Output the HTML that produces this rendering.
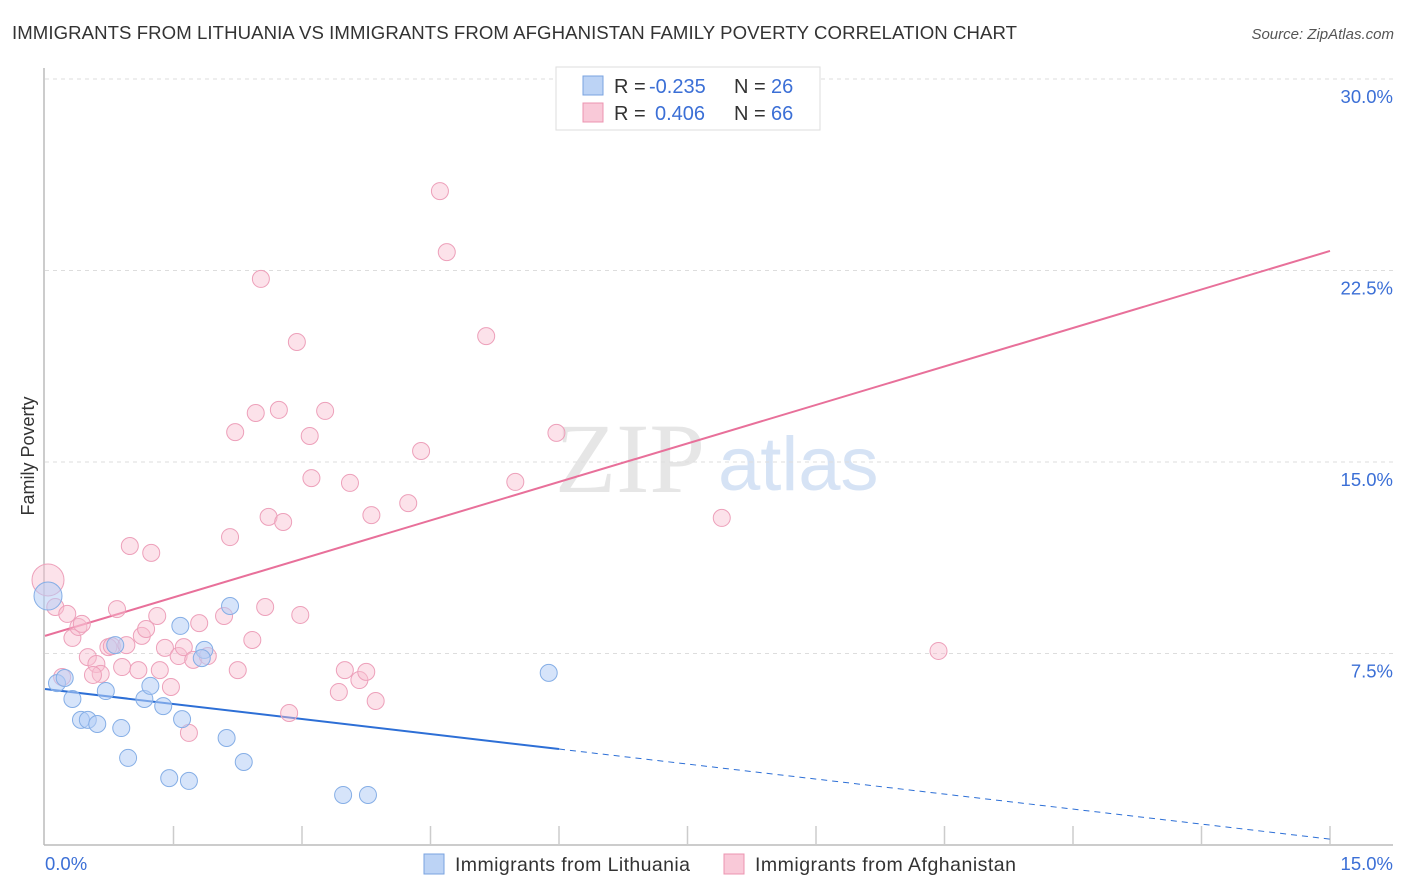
<!DOCTYPE html>
<html><head><meta charset="utf-8"><style>
body{margin:0;background:#fff;font-family:"Liberation Sans",sans-serif;}
svg{display:block}
</style></head><body>
<svg id="chart" width="1406" height="892">
<text x="12" y="39" font-size="18.6" fill="#333" textLength="1005">IMMIGRANTS FROM LITHUANIA VS IMMIGRANTS FROM AFGHANISTAN FAMILY POVERTY CORRELATION CHART</text>
<text x="1394" y="39" font-size="15" fill="#555" text-anchor="end" font-style="italic">Source: ZipAtlas.com</text>
<text x="0" y="0" transform="translate(34,456) rotate(-90)" font-size="18" fill="#333" text-anchor="middle">Family Poverty</text>
<g><text x="555" y="492" font-size="100" fill="#e6e6e6" font-family="Liberation Serif,serif">ZIP</text><text x="718" y="490" font-size="76" fill="#d6e3f5">atlas</text></g>
<g id="grid"></g><g id="axes"></g><g id="lines"></g><g id="pts"></g>
<g>
<rect x="556" y="67" width="264" height="63" fill="#fff" stroke="#ddd"/>
<rect x="583" y="76" width="20" height="19" fill="#bcd3f5" stroke="#7aa3e0"/>
<rect x="583" y="103" width="20" height="19" fill="#f9c9d8" stroke="#ec94b0"/>
<text x="614" y="93" font-size="20" fill="#333">R = <tspan fill="#3b6fd6" x="649">-0.235</tspan><tspan x="734">N = </tspan><tspan fill="#3b6fd6" x="771">26</tspan></text>
<text x="614" y="120" font-size="20" fill="#333">R = <tspan fill="#3b6fd6" x="655">0.406</tspan><tspan x="734">N = </tspan><tspan fill="#3b6fd6" x="771">66</tspan></text>
</g>
<g>
<rect x="424" y="854" width="20" height="20" fill="#bcd3f5" stroke="#7aa3e0"/>
<text x="455" y="871" font-size="19.5" fill="#333" textLength="235">Immigrants from Lithuania</text>
<rect x="724" y="854" width="20" height="20" fill="#f9c9d8" stroke="#ec94b0"/>
<text x="755" y="871" font-size="19.5" fill="#333" textLength="261">Immigrants from Afghanistan</text>
</g>
</svg>
<script>
const yTicks=[7.5,15,22.5,30];
const yTickLabels=["7.5%","15.0%","22.5%","30.0%"];
const xTickCount=10;
const xLabels=["0.0%","15.0%"];
const blueX=[0.035,0.14,0.23,0.32,0.42,0.50,0.61,0.71,0.82,0.89,0.97,1.16,1.23,1.38,1.45,1.58,1.60,1.68,1.86,1.83,2.12,2.16,2.32,3.48,3.77,5.88];
const blueY=[9.75,6.34,6.54,5.72,4.90,4.90,4.74,6.03,7.83,4.58,3.41,5.72,6.23,5.44,2.62,8.58,4.93,2.51,7.64,7.32,4.19,9.36,3.25,1.96,1.96,6.74];
const pinkX=[0.035,0.12,0.20,0.26,0.32,0.39,0.43,0.50,0.60,0.65,0.56,0.74,0.78,0.84,0.90,0.95,0.99,1.09,1.13,1.18,1.24,1.31,1.34,1.40,1.47,1.56,1.62,1.68,1.73,1.80,1.90,2.09,2.16,2.22,2.25,2.42,2.46,2.52,2.57,2.61,2.73,2.78,2.85,2.94,2.98,3.09,3.11,3.27,3.43,3.50,3.56,3.67,3.75,3.81,3.86,4.24,4.39,4.61,4.69,5.15,5.49,5.97,7.90,10.43];
const pinkY=[10.38,9.32,6.58,9.05,8.11,8.54,8.66,7.36,7.09,6.70,6.66,7.75,7.79,9.24,6.97,7.83,11.71,6.85,8.19,8.46,11.44,8.97,6.85,7.72,6.19,7.40,7.75,4.39,7.25,8.69,7.40,8.97,12.06,16.17,6.85,8.03,16.92,22.17,9.32,12.85,17.04,12.65,5.17,19.70,9.01,16.02,14.37,17.00,5.99,6.85,14.18,6.46,6.78,12.92,5.64,13.39,15.43,25.61,23.22,19.93,14.22,16.14,12.81,7.60];
const blueTrend=[6.11,-0.392];
const pinkTrend=[8.19,1.005];
const NS="http://www.w3.org/2000/svg";
const sx=v=>45+v/15*1285, sy=v=>845-v/7.5*191.5;
function mk(p,t,a){const e=document.createElementNS(NS,t);for(const k in a)e.setAttribute(k,a[k]);document.getElementById(p).appendChild(e);return e;}
yTicks.forEach((t,i)=>{
 const l=mk('grid','line',{x1:45,x2:1393,y1:sy(t),y2:sy(t),stroke:'#ddd','stroke-dasharray':'4,4'});
 
 
 const tx=mk('grid','text',{x:1393,y:sy(t)+24,'font-size':18.5,fill:'#3b6fd6','text-anchor':'end'});tx.textContent=yTickLabels[i];
 
 
});
mk('axes','line',{x1:44,x2:44,y1:68,y2:845,stroke:'#bbb','stroke-width':1.5});
mk('axes','line',{x1:44,x2:1393,y1:845,y2:845,stroke:'#bbb','stroke-width':1.5});
for(let i=1;i<=xTickCount;i++){const x=sx(i*1.5);const t=mk('axes','line',{x1:x,x2:x,y1:826,y2:845,stroke:'#ccc','stroke-width':1.5});
 
 }
let a=mk('axes','text',{x:45,y:870,'font-size':18.5,fill:'#3b6fd6'});a.textContent=xLabels[0];


a=mk('axes','text',{x:1393,y:870,'font-size':18.5,fill:'#3b6fd6','text-anchor':'end'});a.textContent=xLabels[1];


const bl=x=>blueTrend[0]+blueTrend[1]*x, pl=x=>pinkTrend[0]+pinkTrend[1]*x;
let ln=mk('lines','line',{x1:sx(0),y1:sy(bl(0)),x2:sx(6),y2:sy(bl(6)),stroke:'#2d6fd6','stroke-width':2});


ln=mk('lines','line',{x1:sx(6),y1:sy(bl(6)),x2:sx(15),y2:sy(bl(15)),stroke:'#2d6fd6','stroke-width':1,'stroke-dasharray':'6,5'});


ln=mk('lines','line',{x1:sx(0),y1:sy(pl(0)),x2:sx(15),y2:sy(pl(15)),stroke:'#e8709a','stroke-width':2});


pinkX.forEach((x,i)=>{const c=mk('pts','circle',{cx:sx(x),cy:sy(pinkY[i]),r:i==0?16:8.5,fill:'rgba(248,190,208,0.45)',stroke:'#eda0ba','stroke-width':1});
 
 });
blueX.forEach((x,i)=>{const c=mk('pts','circle',{cx:sx(x),cy:sy(blueY[i]),r:i==0?14:8.5,fill:'rgba(180,205,245,0.55)',stroke:'#85aee6','stroke-width':1});
 
 });
</script>
</body></html>
